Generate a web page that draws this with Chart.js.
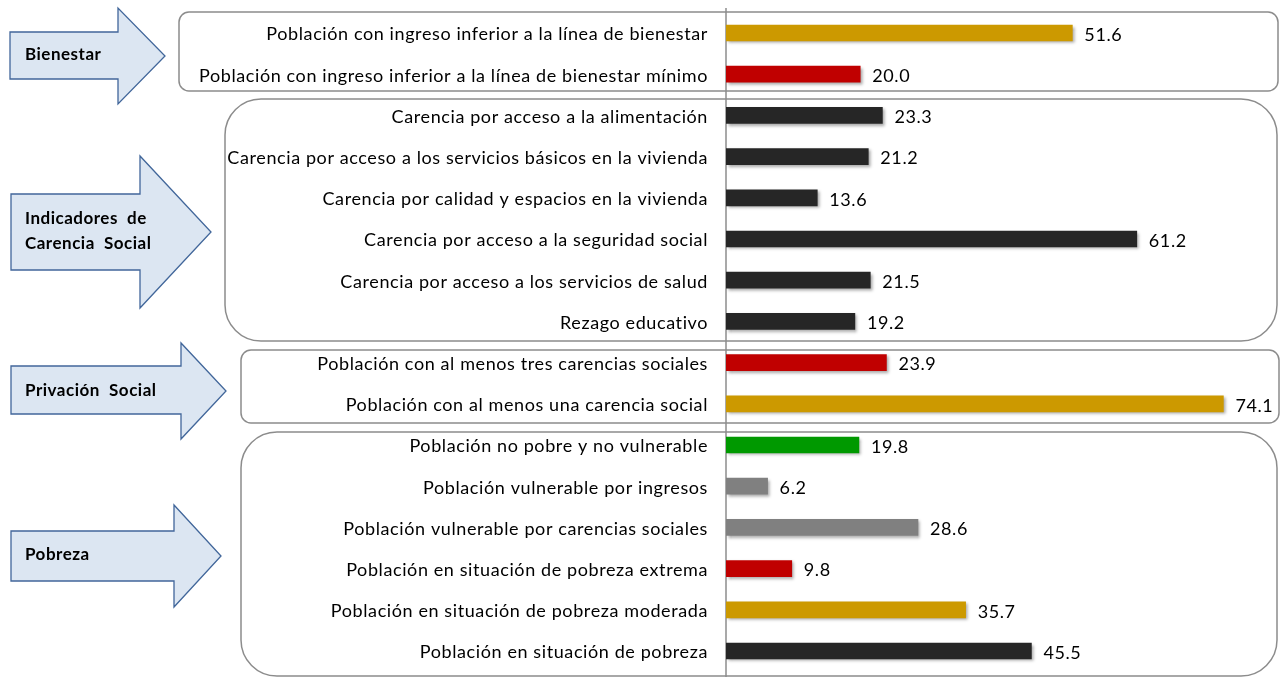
<!DOCTYPE html>
<html>
<head>
<meta charset="utf-8">
<script src="https://cdn.jsdelivr.net/npm/chart.js@4"></script>
<style>
  html, body { margin: 0; padding: 0; background: #fff; }
  #wrap { position: relative; width: 1284px; height: 677px; }
</style>
</head>
<body>
<div id="wrap"><canvas id="povChart"></canvas></div>
<script>
// categories top to bottom
var labels = [
  'Población con ingreso inferior a la línea de bienestar',
  'Población con ingreso inferior a la línea de bienestar mínimo',
  'Carencia por acceso a la alimentación',
  'Carencia por acceso a los servicios básicos en la vivienda',
  'Carencia por calidad y espacios en la vivienda',
  'Carencia por acceso a la seguridad social',
  'Carencia por acceso a los servicios de salud',
  'Rezago educativo',
  'Población con al menos tres carencias sociales',
  'Población con al menos una carencia social',
  'Población no pobre y no vulnerable',
  'Población vulnerable por ingresos',
  'Población vulnerable por carencias sociales',
  'Población en situación de pobreza extrema',
  'Población en situación de pobreza moderada',
  'Población en situación de pobreza'
];
var values = [51.6, 20.0, 23.3, 21.2, 13.6, 61.2, 21.5, 19.2, 23.9, 74.1, 19.8, 6.2, 28.6, 9.8, 35.7, 45.5];
var barColors = ['#CC9900', '#C00000', '#262626', '#262626', '#262626', '#262626', '#262626', '#262626',
  '#C00000', '#CC9900', '#009900', '#808080', '#808080', '#C00000', '#CC9900', '#262626'];
var groupNames = [['Bienestar'], ['Indicadores  de', 'Carencia  Social'], ['Privación  Social'], ['Pobreza']];

var FONT = 'Lato, "Open Sans", sans-serif';
var SPACING = '0.6px';

(function () {
  function roundRect(ctx, x, y, w, h, r) {
    ctx.beginPath();
    ctx.moveTo(x + r, y);
    ctx.lineTo(x + w - r, y);
    ctx.arcTo(x + w, y, x + w, y + r, r);
    ctx.lineTo(x + w, y + h - r);
    ctx.arcTo(x + w, y + h, x + w - r, y + h, r);
    ctx.lineTo(x + r, y + h);
    ctx.arcTo(x, y + h, x, y + h - r, r);
    ctx.lineTo(x, y + r);
    ctx.arcTo(x, y, x + r, y, r);
    ctx.closePath();
  }

  function arrow(ctx, a) {
    ctx.beginPath();
    ctx.moveTo(a.l, a.bt);
    ctx.lineTo(a.n, a.bt);
    ctx.lineTo(a.n, a.ht);
    ctx.lineTo(a.tip, a.ty);
    ctx.lineTo(a.n, a.hb);
    ctx.lineTo(a.n, a.bb);
    ctx.lineTo(a.l, a.bb);
    ctx.closePath();
    ctx.fillStyle = '#DCE6F2';
    ctx.fill();
    ctx.strokeStyle = '#41669A';
    ctx.lineWidth = 1.3;
    ctx.stroke();
  }

  // group boxes + arrows (decoration behind the bars)
  var groupsPlugin = {
    id: 'groups',
    beforeDraw: function (chart) {
      var ctx = chart.ctx;
      ctx.letterSpacing = SPACING; // Calibri-like spacing, kept for tick labels
      ctx.save();
      ctx.strokeStyle = '#8C8C8C';
      ctx.lineWidth = 1.5;
      var boxes = [
        { x: 179, y: 12, w: 1099, h: 79, r: 10 },
        { x: 225, y: 99, w: 1052, h: 242, r: 36 },
        { x: 241, y: 350, w: 1038, h: 73, r: 10 },
        { x: 241, y: 432, w: 1036, h: 244, r: 36 }
      ];
      boxes.forEach(function (b) {
        roundRect(ctx, b.x, b.y, b.w, b.h, b.r);
        ctx.stroke();
      });
      var arrows = [
        { l: 10, n: 118, bt: 32, bb: 79, ht: 8, hb: 104, tip: 165, ty: 56, ly: [55] },
        { l: 11, n: 140, bt: 194, bb: 270, ht: 156, hb: 308, tip: 211, ty: 232, ly: [219, 244] },
        { l: 11, n: 181, bt: 366, bb: 414, ht: 343, hb: 439, tip: 226, ty: 391, ly: [391] },
        { l: 11, n: 174, bt: 531, bb: 581, ht: 505, hb: 607, tip: 221, ty: 556, ly: [555] }
      ];
      arrows.forEach(function (a, i) {
        arrow(ctx, a);
        ctx.fillStyle = '#000';
        ctx.font = 'bold 17px ' + FONT;
        ctx.letterSpacing = '0.5px';
        ctx.textAlign = 'left';
        ctx.textBaseline = 'middle';
        groupNames[i].forEach(function (t, k) {
          ctx.fillText(t, 25, a.ly[k]);
        });
      });
      // axis line full height
      var x0 = chart.scales.x.getPixelForValue(0);
      ctx.strokeStyle = '#8C8C8C';
      ctx.lineWidth = 1.5;
      ctx.beginPath();
      ctx.moveTo(x0, 8);
      ctx.lineTo(x0, 677);
      ctx.stroke();
      ctx.restore();
    },
    beforeDatasetsDraw: function (chart) {
      var ctx = chart.ctx;
      ctx.save();
      ctx.shadowColor = 'rgba(0,0,0,0.35)';
      ctx.shadowBlur = 3;
      ctx.shadowOffsetX = 2;
      ctx.shadowOffsetY = 2;
    },
    afterDatasetsDraw: function (chart) {
      var ctx = chart.ctx;
      ctx.restore();
      ctx.save();
      ctx.fillStyle = '#000';
      ctx.font = '18px ' + FONT;
      ctx.letterSpacing = '0.6px';
      ctx.textAlign = 'left';
      ctx.textBaseline = 'middle';
      var meta = chart.getDatasetMeta(0);
      meta.data.forEach(function (bar, i) {
        ctx.fillText(values[i].toFixed(1), bar.x + 12, bar.y + 2);
      });
      ctx.restore();
    }
  };

  var ctx = document.getElementById('povChart').getContext('2d');
  new Chart(ctx, {
    type: 'bar',
    data: {
      labels: labels,
      datasets: [{
        data: values,
        backgroundColor: barColors,
        borderWidth: 0,
        barThickness: 16
      }]
    },
    plugins: [groupsPlugin],
    options: {
      indexAxis: 'y',
      responsive: true,
      maintainAspectRatio: false,
      animation: false,
      layout: { padding: { top: 12.4, bottom: 5.4, left: 0, right: 21 } },
      plugins: { legend: { display: false }, tooltip: { enabled: false } },
      scales: {
        x: {
          display: false,
          min: 0,
          max: 80
        },
        y: {
          afterFit: function (scale) {
            scale.width = 726;
            scale.paddingTop = 0;
            scale.paddingBottom = 0;
          },
          grid: { display: false, drawTicks: false },
          border: { display: false },
          ticks: {
            color: '#000',
            padding: 18,
            labelOffset: 1.5,
            font: { family: FONT, size: 18 }
          }
        }
      }
    }
  });
})();
</script>
</body>
</html>
